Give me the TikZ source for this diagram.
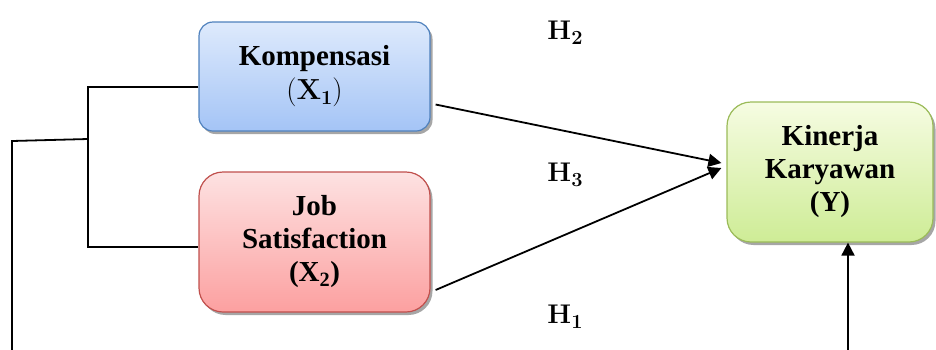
\documentclass[tikz,border=0pt]{standalone}
\usepackage{fontspec}
\setmainfont{Liberation Serif}
\newfontfamily\hfont{Latin Modern Roman}
\usetikzlibrary{shadows,arrows.meta}
\newcommand{\hsub}[2]{{\hfont\bfseries #1\raisebox{-5pt}{\fontsize{20}{20}\selectfont #2}}}
\begin{document}
\begin{tikzpicture}[x=1pt,y=-1pt,
  box/.style={rounded corners=#1, draw, line width=1.2pt, align=center,
    font=\fontsize{29}{33}\selectfont\bfseries, inner sep=0pt,
    drop shadow={shadow xshift=2.5pt, shadow yshift=-3pt, fill=black, opacity=0.35}},
  conn/.style={line width=1.8pt, black},
  arr/.style={conn, -{Triangle[length=13pt,width=13pt]}},
  hlab/.style={font=\fontsize{27}{30}\selectfont, inner sep=0pt}]
\clip (0,0) rectangle (936,349);
\useasboundingbox (0,0) rectangle (936,349);

\node[box=14pt, minimum width=231pt, minimum height=109pt,
  draw={rgb,255:red,79;green,129;blue,189},
  top color={rgb,255:red,222;green,234;blue,252},
  bottom color={rgb,255:red,164;green,196;blue,246}]
  (komp) at (314.5,76.5) {Kompensasi\\[1pt]{\hfont\mdseries(}\hsub{X}{1}{\hfont\mdseries)}};

\node[box=24pt, minimum width=231pt, minimum height=140pt,
  draw={rgb,255:red,192;green,80;blue,77},
  top color={rgb,255:red,253;green,226;blue,226},
  bottom color={rgb,255:red,252;green,160;blue,160}]
  (job) at (314.5,242) {Job\\Satisfaction\\(X\textsubscript{2})};

\node[box=24pt, minimum width=206pt, minimum height=140pt,
  draw={rgb,255:red,155;green,187;blue,89},
  top color={rgb,255:red,246;green,252;blue,226},
  bottom color={rgb,255:red,206;green,236;blue,150}]
  (kin) at (830,172) {Kinerja\\Karyawan\\(Y)};

\node[hlab] (h2) at (565,33) {\hsub{H}{2}};
\node[hlab] (h3) at (565,175) {\hsub{H}{3}};
\node[hlab] (h1) at (565,317) {\hsub{H}{1}};

\coordinate (kout) at ([xshift=5pt,yshift=-28pt]komp.east);
\coordinate (jout) at ([xshift=5pt,yshift=-48pt]job.east);
\coordinate (kin1) at ([xshift=-5pt,yshift=9pt]kin.west);
\coordinate (kin2) at ([xshift=-5pt,yshift=4pt]kin.west);
\draw[arr] (kout) -- (kin1);
\draw[arr] (jout) -- (kin2);

\coordinate (kw) at ([yshift=-10.5pt]komp.west);
\coordinate (jw) at ([yshift=-5pt]job.west);
\coordinate (bt) at (88,87);
\coordinate (bb) at (88,247);
\coordinate (bm) at (88,139);
\coordinate (bo) at (12,141);
\coordinate (bl) at (12,360);
\coordinate (br) at (848,360);
\draw[conn] (kw) -- (bt) -- (bb) -- (jw);
\draw[conn] (bm) -- (bo) -- (bl);
\draw[arr] (br) -- (br |- kin.south);
\end{tikzpicture}
\end{document}
